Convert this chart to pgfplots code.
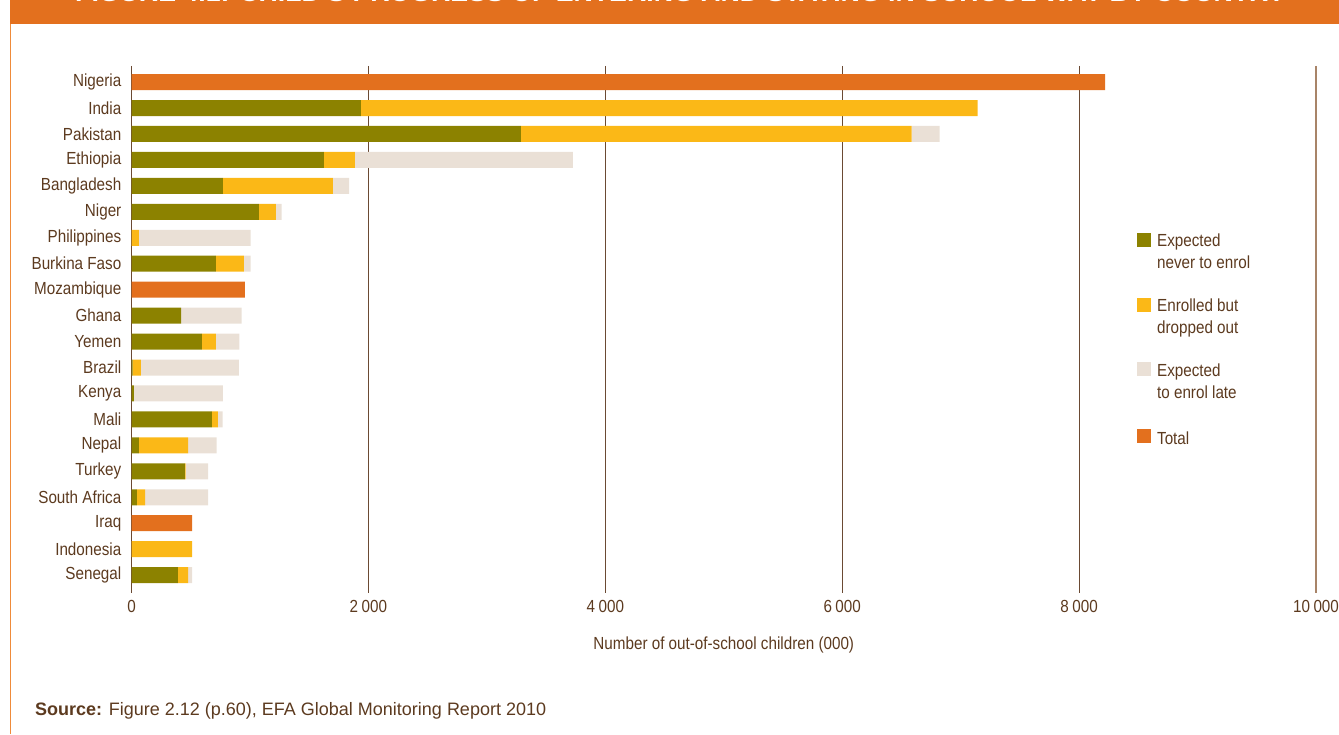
\documentclass[border=0pt]{standalone}
\usepackage{fontspec}
\setmainfont{Liberation Sans}[FakeStretch=0.87]
\newfontfamily\titlefont{Liberation Sans}
\usepackage{graphicx}
\usepackage{pgfplots}
\pgfplotsset{compat=1.18}
\definecolor{olive}{HTML}{8C8200}
\definecolor{yel}{HTML}{FBB817}
\definecolor{beige}{HTML}{EAE0D6}
\definecolor{org}{HTML}{E3701E}
\definecolor{txt}{HTML}{5C3A1F}
\definecolor{grd}{HTML}{6B4A33}
\definecolor{grdl}{HTML}{A88468}
\definecolor{edge}{HTML}{EF8B3A}
\newcommand{\twoline}[2]{\begin{tabular}[t]{@{}l@{}}#1\\#2\end{tabular}}
\begin{document}
\begin{tikzpicture}[x=1bp,y=1bp]
\path[use as bounding box] (0,0) rectangle (1339,734);
\fill[org] (10,710) rectangle (1339,734);
\draw[edge, line width=1.2bp] (10.5,0) -- (10.5,710);
\node[anchor=base west, inner sep=0pt, text=white] at (75,732.5)
  {\resizebox{1210bp}{17bp}{\titlefont\bfseries FIGURE 4.1: CHILD'S PROGRESS OF ENTERING AND STAYING IN SCHOOL WAY BY COUNTRY}};
\begin{axis}[
  at={(131.5bp,141bp)}, anchor=south west,
  scale only axis, width=1184.5bp, height=527bp,
  xbar stacked, bar width=16bp,
  xmin=0, xmax=10000, ymin=-0.62, ymax=19.69, y dir=reverse,
  axis line style={draw=none},
  major tick length=0pt,
  scaled x ticks=false,
  xtick={0,2000,4000,6000,8000},
  extra x ticks={10000},
  extra x tick style={grid style={color=grdl, line width=1.1bp}},
  xmajorgrids, grid style={color=grd, line width=1.1bp},
  ytick={0,...,19},
  yticklabels={Nigeria,India,Pakistan,Ethiopia,Bangladesh,Niger,Philippines,Burkina Faso,Mozambique,Ghana,Yemen,Brazil,Kenya,Mali,Nepal,Turkey,South Africa,Iraq,Indonesia,Senegal},
  /pgf/number format/.cd, 1000 sep={\hspace{3.5bp}}, assume math mode=true, /pgfplots/.cd,
  tick label style={font=\fontsize{17.5bp}{20bp}\selectfont, text=txt},
  xticklabel style={inner sep=0pt, yshift=-7bp},
  yticklabel style={inner sep=0pt, xshift=-10bp},
  xlabel={Number of out-of-school children (000)},
  xlabel style={font=\fontsize{17.5bp}{20bp}\selectfont, text=txt, at={(axis description cs:0.5,0)}, anchor=center, yshift=-52bp},
  legend cell align=left,
  legend style={at={(axis description cs:0.8463,0.6944)}, anchor=north west, draw=none, fill=none,
    font=\fontsize{17.5bp}{22bp}\selectfont, text=txt, row sep=44bp},
  legend image code/.code={\fill[#1] (0bp,-7bp) rectangle (14bp,7bp); \path (18bp,0bp);},
]
\addplot[fill=olive, draw=none] coordinates {(0,0) (1937,1) (3287,2) (1625,3) (772,4) (1076,5) (0,6) (713,7) (0,8) (418,9) (595,10) (10,11) (21,12) (679,13) (63,14) (451,15) (46,16) (0,17) (0,18) (392,19)};
\addlegendentry{\twoline{Expected}{never to enrol}}
\addplot[fill=yel, draw=none] coordinates {(0,0) (5206,1) (3299,2) (261,3) (928,4) (143,5) (63,6) (236,7) (0,8) (0,9) (118,10) (70,11) (0,12) (51,13) (414,14) (6,15) (68,16) (0,17) (511,18) (85,19)};
\addlegendentry{\twoline{Enrolled but}{dropped out}}
\addplot[fill=beige, draw=none] coordinates {(0,0) (0,1) (237,2) (1840,3) (138,4) (48,5) (943,6) (57,7) (0,8) (512,9) (197,10) (827,11) (751,12) (40,13) (242,14) (189,15) (532,16) (0,17) (0,18) (34,19)};
\addlegendentry{\twoline{Expected}{to enrol late}}
\addplot[fill=org, draw=none] coordinates {(8220,0) (0,1) (0,2) (0,3) (0,4) (0,5) (0,6) (0,7) (958,8) (0,9) (0,10) (0,11) (0,12) (0,13) (0,14) (0,15) (0,16) (511,17) (0,18) (0,19)};
\addlegendentry{\rule{0pt}{18.5bp}Total}
\end{axis}
\node[anchor=west, inner sep=0pt, text=txt, font=\titlefont\fontsize{18bp}{20bp}\selectfont] at (35,23) {\textbf{Source:} Figure 2.12 (p.60), EFA Global Monitoring Report 2010};
\end{tikzpicture}
\end{document}
